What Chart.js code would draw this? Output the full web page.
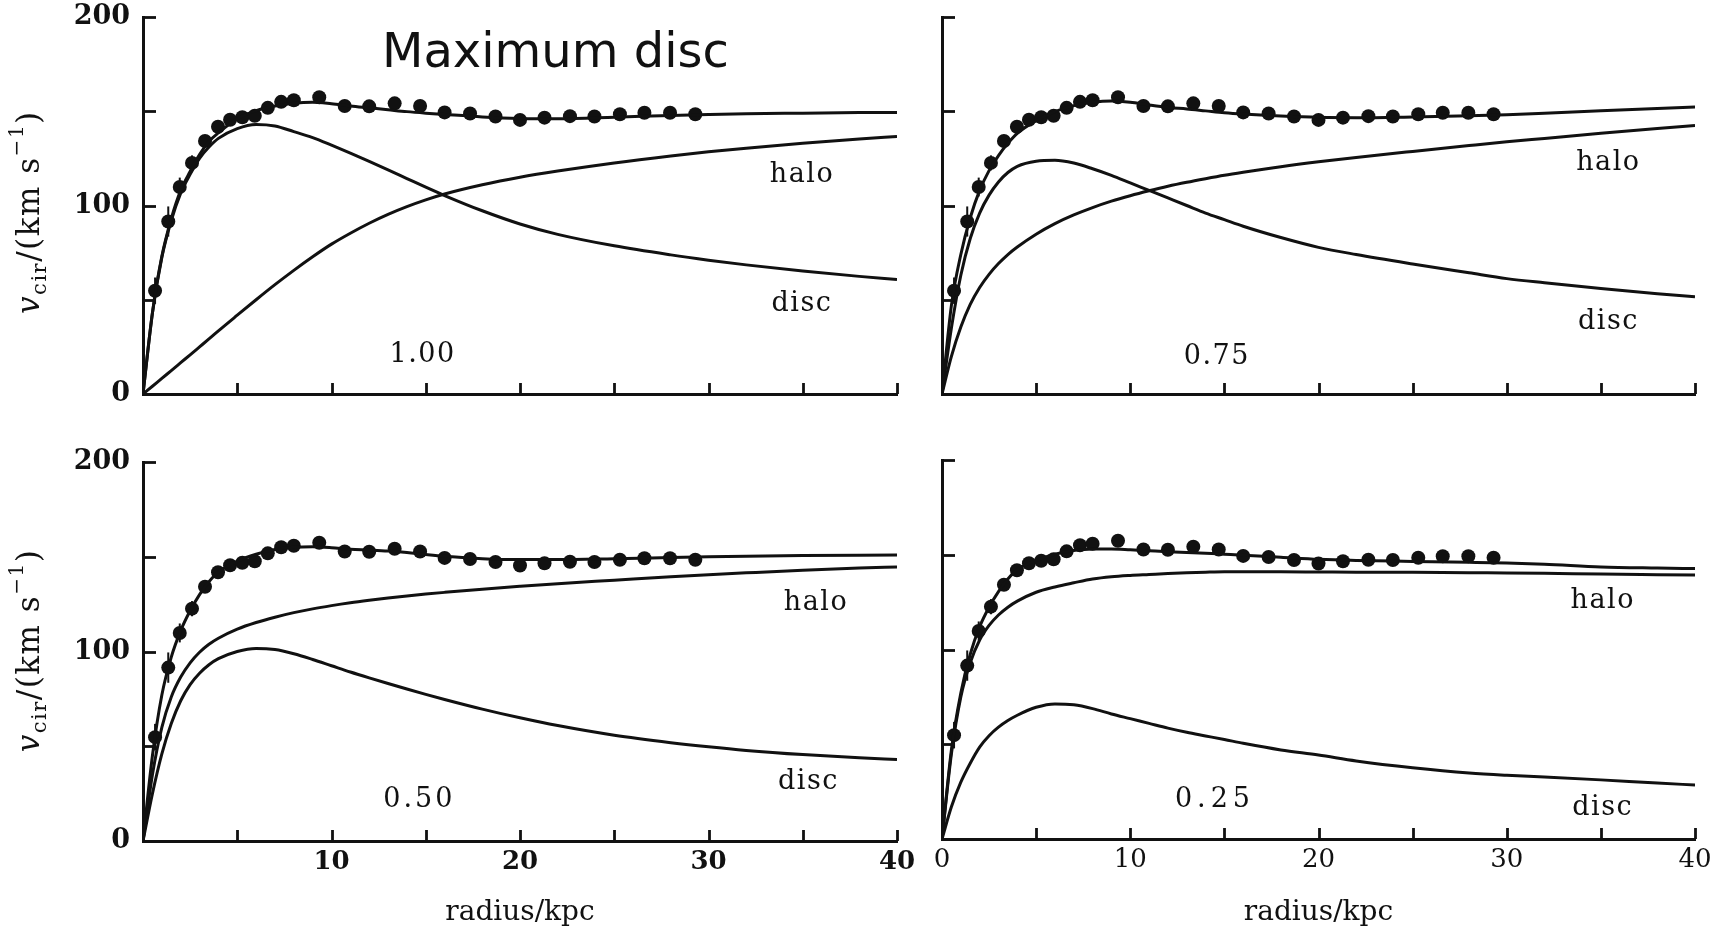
<!DOCTYPE html>
<html>
<head>
<meta charset="utf-8">
<title>Maximum disc – rotation curve decomposition</title>
<script src="https://cdn.jsdelivr.net/npm/chart.js@4.4.1/dist/chart.umd.min.js"></script>
<style>
  html, body { margin: 0; padding: 0; background: #fff; }
  body { width: 1721px; height: 932px; position: relative; overflow: hidden; }
  canvas { position: absolute; }
</style>
</head>
<body>
<canvas id="pTL" width="920" height="430" style="left:0px;top:0px"></canvas>
<canvas id="pTR" width="801" height="430" style="left:920px;top:0px"></canvas>
<canvas id="pBL" width="920" height="502" style="left:0px;top:430px"></canvas>
<canvas id="pBR" width="801" height="502" style="left:920px;top:430px"></canvas>
<script>
// ---------------------------------------------------------------------------
// Data
// ---------------------------------------------------------------------------

// Radii (kpc) at which the model curves are tabulated
const modelRadius = [0, 0.5, 1, 1.5, 2, 2.5, 3, 3.5, 4, 5, 6, 7, 8, 9, 10, 11, 12, 13, 14, 15, 16, 18, 20, 22, 25, 28, 30, 32, 35, 38, 40];

// Disc mass-to-light fraction 1.00
const total100 = [0, 43, 73, 93, 108, 118, 127, 134, 138.5, 146, 150.3, 152.8, 154.3, 154.8, 154, 152.8, 151.8, 150.8, 149.8, 149, 148.3, 147, 146.2, 146, 146.8, 147.8, 148.3, 148.7, 149, 149.3, 149.4];
const disc100  = [0, 43, 72.5, 92, 106.5, 116.5, 125, 131, 135.6, 140.8, 143, 142.2, 139.2, 136, 132, 127.8, 123.4, 118.9, 114.3, 109.7, 105.3, 97.2, 90.2, 84.7, 78.6, 73.8, 71, 68.5, 65.2, 62.4, 60.8];
const halo100  = [0, 4.1, 8.3, 12.4, 16.6, 20.8, 25, 29.2, 33.5, 41.8, 50, 58, 65.6, 72.8, 79.5, 85.3, 90.6, 95.3, 99.4, 103, 106.1, 111, 115, 118.3, 122.6, 126.3, 128.5, 130.4, 133, 135.3, 136.6];

// Disc fraction 0.75
const total075 = [0, 47, 74, 93.5, 108, 118.5, 126.5, 133, 138.3, 145, 149.8, 153, 154.8, 155.5, 154.8, 153.3, 152, 151.2, 150.2, 149.2, 148.5, 147.5, 146.8, 146.6, 147, 147.6, 148.2, 149, 150.3, 151.5, 152.2];
const disc075  = [0, 35, 63, 82.5, 96, 105.5, 112.5, 117.5, 120.8, 123.5, 124, 122.5, 119.5, 116, 112, 108, 104, 100, 96, 92.5, 89, 83, 77.8, 74, 69, 64.3, 61.2, 59, 56, 53.2, 51.6];
const halo075  = [0, 20, 35.5, 47.5, 56.5, 63.5, 69.2, 74, 78, 84.8, 90.4, 95, 98.9, 102.3, 105.2, 107.8, 110.2, 112.3, 114.2, 116, 117.6, 120.6, 123.2, 125.5, 128.7, 131.8, 133.8, 135.6, 138.3, 140.8, 142.4];

// Disc fraction 0.50
const total050 = [0, 45, 77, 97, 111, 121.5, 130, 136.8, 142, 147.6, 151.3, 153.8, 155, 155.3, 154.8, 153.9, 153.5, 153, 152.2, 151.2, 150.3, 149, 148.5, 148.5, 149, 149.6, 150, 150.3, 150.6, 150.8, 150.9];
const disc050  = [0, 25, 46, 62, 74, 82.5, 88.5, 93, 96.2, 100, 101.6, 101, 98.8, 95.8, 92.5, 89.2, 86.1, 83.1, 80.2, 77.4, 74.7, 69.6, 65, 60.9, 55.8, 51.9, 49.7, 47.8, 45.6, 43.9, 43];
const halo050  = [0, 35, 60, 76, 86.5, 94, 99.6, 103.8, 107, 111.8, 115.3, 118.1, 120.5, 122.5, 124.2, 125.7, 127, 128.2, 129.3, 130.3, 131.2, 132.9, 134.4, 135.8, 137.6, 139.4, 140.5, 141.5, 142.9, 144, 144.6];

// Disc fraction 0.25
const total025 = [0, 47, 77, 97.5, 112, 122.3, 130.5, 137.2, 142.2, 147, 150.3, 152.2, 153, 153, 152.6, 152.1, 151.6, 151.2, 150.8, 150.3, 149.8, 148.7, 147.6, 147, 146.5, 146, 145.6, 145, 143.6, 143, 142.7];
const disc025  = [0, 17, 30, 40, 48.5, 54.5, 59, 62.5, 65.3, 69.5, 71.3, 70.8, 68.8, 66, 63.5, 61, 58.5, 56.3, 54.4, 52.5, 50.5, 47, 44.3, 41.2, 37.6, 34.8, 33.6, 32.7, 31.2, 29.5, 28.5];
const halo025  = [0, 45, 75, 93, 105, 112.7, 118.2, 122.3, 125.5, 130.2, 133, 135.2, 137.2, 138.4, 139.1, 139.6, 140.1, 140.5, 140.8, 141, 141, 141, 140.9, 140.8, 140.7, 140.5, 140.4, 140.2, 139.8, 139.5, 139.3];

// Observed rotation curve (same in every panel)
const obsRadius   = [0.64, 1.34, 1.95, 2.6, 3.29, 3.98, 4.62, 5.27, 5.93, 6.62, 7.33, 8.0, 9.35, 10.7, 12.0, 13.35, 14.7, 16.0, 17.35, 18.7, 20.0, 21.3, 22.65, 23.95, 25.3, 26.6, 27.96, 29.3];
const obsVelocity = [54.8, 91.5, 109.8, 122.6, 134.2, 141.8, 145.5, 146.8, 147.6, 151.8, 155, 155.8, 157.4, 152.8, 152.6, 154.2, 152.8, 149.4, 148.8, 147.2, 145.4, 146.6, 147.4, 147.2, 148.4, 149.2, 149.2, 148.4];
const obsError    = [7, 8, 5, 4, 3, 2, 1, 1, 1, 1, 0, 0, 0, 0, 0, 0, 0, 0, 0, 0, 0, 0, 0, 0, 0, 0, 0, 0];

// Axis tick values
const radiusTicks   = [0, 5, 10, 15, 20, 25, 30, 35, 40];
const velocityTicks = [0, 50, 100, 150, 200];

// ---------------------------------------------------------------------------
// Drawing helpers
// ---------------------------------------------------------------------------
const INK = '#111';
const SERIF = '"DejaVu Serif", "Liberation Serif", serif';

const toXY = (xs, ys) => xs.map((x, i) => ({ x, y: ys[i] }));

function drawVelocityTitle(ctx, x, y) {
  const parts = [
    ['v',      'italic 31px ' + SERIF, 0],
    ['cir',    '21px ' + SERIF, 7],
    ['/(km s', '31px ' + SERIF, 0],
    ['\u22121', '20px ' + SERIF, -16],
    [')',      '31px ' + SERIF, 0]
  ];
  ctx.save();
  ctx.fillStyle = INK;
  ctx.letterSpacing = '1.5px';
  let total = 0;
  for (const p of parts) { ctx.font = p[1]; total += ctx.measureText(p[0]).width; }
  ctx.translate(x, y);
  ctx.rotate(-Math.PI / 2);
  ctx.textAlign = 'left';
  ctx.textBaseline = 'alphabetic';
  let cx = -total / 2;
  for (const p of parts) {
    ctx.font = p[1];
    ctx.fillText(p[0], cx, p[2]);
    cx += ctx.measureText(p[0]).width;
  }
  ctx.restore();
}

// Inward tick marks, error bars, curve labels and panel annotations
const figureMarks = {
  id: 'figureMarks',
  beforeDatasetsDraw(chart, args, opts) {
    const { ctx, scales: { x, y } } = chart;
    ctx.save();
    ctx.strokeStyle = INK;
    ctx.lineWidth = 2;
    obsRadius.forEach((r, i) => {
      const e = obsError[i];
      if (!e) return;
      const px = x.getPixelForValue(r);
      ctx.beginPath();
      ctx.moveTo(px, y.getPixelForValue(obsVelocity[i] - e));
      ctx.lineTo(px, y.getPixelForValue(obsVelocity[i] + e));
      ctx.stroke();
    });
    ctx.restore();
  },
  afterDraw(chart, args, opts) {
    const { ctx, chartArea: a, scales: { x, y } } = chart;
    ctx.save();
    ctx.strokeStyle = INK;
    ctx.lineWidth = 2.8;
    ctx.lineCap = 'butt';
    for (const r of radiusTicks) {
      if (r === 0) continue;
      const px = Math.round(x.getPixelForValue(r)) + 0.5;
      ctx.beginPath();
      ctx.moveTo(px, a.bottom);
      ctx.lineTo(px, a.bottom - 11);
      ctx.stroke();
    }
    for (const v of velocityTicks) {
      if (v === 0) continue;
      const py = Math.round(y.getPixelForValue(v)) + 0.5;
      ctx.beginPath();
      ctx.moveTo(a.left, py);
      ctx.lineTo(a.left + 13, py);
      ctx.stroke();
    }

    ctx.fillStyle = INK;
    ctx.textAlign = 'center';
    ctx.textBaseline = 'alphabetic';
    for (const t of opts.texts) {
      ctx.font = t.font;
      ctx.letterSpacing = t.spacing || '0px';
      ctx.fillText(t.text, x.getPixelForValue(t.r), y.getPixelForValue(t.v));
    }
    ctx.letterSpacing = '0px';

    if (opts.velocityTitleAt !== undefined) {
      drawVelocityTitle(ctx, 39, y.getPixelForValue(opts.velocityTitleAt));
    }
    if (opts.heading) {
      ctx.font = '48px "DejaVu Sans", sans-serif';
      ctx.textAlign = 'left';
      ctx.fillText(opts.heading, 382, 67);
    }
    ctx.restore();
  }
};

// ---------------------------------------------------------------------------
// Panels
// ---------------------------------------------------------------------------
const curveLabelFont = '27px ' + SERIF;

const panels = [
  {
    canvas: 'pTL', total: total100, disc: disc100, halo: halo100,
    padding: { left: 0, top: 17, right: 23, bottom: 0 }, yWidth: 143, xHeight: 36,
    yLabels: true, xLabels: false, showZero: false, heading: 'Maximum disc', velocityTitleAt: 96.5,
    texts: [
      { text: 'halo', r: 34.96, v: 112.5, font: curveLabelFont, spacing: '1.5px' },
      { text: 'disc', r: 34.96, v: 44, font: curveLabelFont, spacing: '1.5px' },
      { text: '1.00', r: 14.83, v: 17.1, font: curveLabelFont, spacing: '1.5px' }
    ]
  },
  {
    canvas: 'pTR', total: total075, disc: disc075, halo: halo075,
    padding: { left: 0, top: 17, right: 26, bottom: 0 }, yWidth: 22, xHeight: 36,
    yLabels: false, xLabels: false, showZero: false,
    texts: [
      { text: 'halo', r: 35.4, v: 118.8, font: curveLabelFont, spacing: '1.5px' },
      { text: 'disc', r: 35.4, v: 34.7, font: curveLabelFont, spacing: '1.5px' },
      { text: '0.75', r: 14.6, v: 15.9, font: curveLabelFont, spacing: '1.5px' }
    ]
  },
  {
    canvas: 'pBL', total: total050, disc: disc050, halo: halo050,
    padding: { left: 0, top: 32, right: 23, bottom: 0 }, yWidth: 143, xHeight: 91,
    yLabels: true, xLabels: true, showZero: false, xBold: true, velocityTitleAt: 100.5,
    texts: [
      { text: 'halo', r: 35.7, v: 122.1, font: curveLabelFont, spacing: '1.5px' },
      { text: 'disc', r: 35.3, v: 27.7, font: curveLabelFont, spacing: '1.5px' },
      { text: '0.50', r: 14.66, v: 17.7, font: curveLabelFont, spacing: '3px' }
    ]
  },
  {
    canvas: 'pBR', total: total025, disc: disc025, halo: halo025,
    padding: { left: 0, top: 30, right: 26, bottom: 0 }, yWidth: 22, xHeight: 93,
    yLabels: false, xLabels: true, showZero: true, xBold: false,
    texts: [
      { text: 'halo', r: 35.1, v: 121.9, font: curveLabelFont, spacing: '1.5px' },
      { text: 'disc', r: 35.1, v: 12.9, font: curveLabelFont, spacing: '1.5px' },
      { text: '0.25', r: 14.5, v: 16.7, font: curveLabelFont, spacing: '5px' }
    ]
  }
];

const curveStyle = {
  type: 'line',
  borderColor: INK,
  borderWidth: 3,
  pointRadius: 0,
  fill: false,
  cubicInterpolationMode: 'monotone'
};

for (const p of panels) {
  new Chart(document.getElementById(p.canvas), {
    type: 'line',
    data: {
      datasets: [
        { ...curveStyle, label: 'total', data: toXY(modelRadius, p.total) },
        { ...curveStyle, label: 'disc',  data: toXY(modelRadius, p.disc) },
        { ...curveStyle, label: 'halo',  data: toXY(modelRadius, p.halo) },
        {
          type: 'scatter', label: 'observed', data: toXY(obsRadius, obsVelocity),
          showLine: false, pointRadius: 7, pointBackgroundColor: INK,
          pointBorderWidth: 0, borderColor: INK, backgroundColor: INK
        }
      ]
    },
    options: {
      responsive: false,
      animation: false,
      events: [],
      layout: { padding: p.padding, autoPadding: false },
      plugins: {
        legend: { display: false },
        tooltip: { enabled: false },
        figureMarks: { texts: p.texts, heading: p.heading, velocityTitleAt: p.velocityTitleAt }
      },
      scales: {
        x: {
          type: 'linear', min: 0, max: 40,
          afterBuildTicks: s => { s.ticks = radiusTicks.map(value => ({ value })); },
          afterFit: s => { s.height = p.xHeight; s.paddingLeft = 0; s.paddingRight = 0; },
          grid: { display: false, drawTicks: false },
          border: { display: true, color: INK, width: 3 },
          ticks: {
            display: p.xLabels, autoSkip: false, maxRotation: 0, padding: 6, color: INK,
            font: { family: SERIF, size: 26, weight: p.xBold ? 'bold' : 'normal' },
            callback: v => (v % 10 === 0 && (v !== 0 || p.showZero)) ? String(v) : ''
          },
          title: {
            display: p.xLabels, text: 'radius/kpc', color: INK,
            font: { family: SERIF, size: 28 }, padding: { top: 0, bottom: 2 }
          }
        },
        y: {
          type: 'linear', min: 0, max: 200,
          afterBuildTicks: s => { s.ticks = velocityTicks.map(value => ({ value })); },
          afterFit: s => { s.width = p.yWidth; s.paddingTop = 0; s.paddingBottom = 0; },
          grid: { display: false, drawTicks: false },
          border: { display: true, color: INK, width: 3 },
          ticks: {
            display: p.yLabels, padding: 13, color: INK,
            font: { family: SERIF, size: 27, weight: 'bold' },
            callback: v => (v % 100 === 0) ? String(v) : ''
          }
        }
      }
    },
    plugins: [figureMarks]
  });
}
</script>
</body>
</html>
